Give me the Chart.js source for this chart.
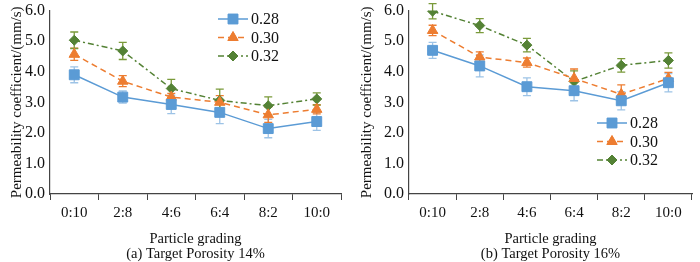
<!DOCTYPE html>
<html>
<head>
<meta charset="utf-8">
<script src="https://cdn.jsdelivr.net/npm/chart.js@4.4.1/dist/chart.umd.min.js"></script>
<style>
  html, body { margin: 0; padding: 0; background: #fff; overflow: hidden; }
  #wrap { position: relative; width: 700px; height: 262px; overflow: hidden; }
  .box { position: absolute; top: -4px; width: 350px; height: 266px; }
</style>
</head>
<body>
<div id="wrap">
  <div class="box" style="left:0"><canvas id="chartA"></canvas></div>
  <div class="box" style="left:350px"><canvas id="chartB"></canvas></div>
</div>
<script>
// categories and series
const grading = ["0:10", "2:8", "4:6", "6:4", "8:2", "10:0"];
const ratios = ["0.28", "0.30", "0.32"];

// (a) target porosity 14%
const a28 = [3.90, 3.17, 2.93, 2.67, 2.14, 2.37];
const a30 = [4.57, 3.69, 3.17, 3.00, 2.59, 2.77];
const a32 = [5.03, 4.68, 3.45, 3.06, 2.89, 3.11];
const a28Err = [0.26, 0.20, 0.30, 0.37, 0.30, 0.29];
const a30Err = [0.20, 0.18, 0.12, 0.22, 0.25, 0.15];
const a32Err = [0.27, 0.28, 0.30, 0.37, 0.29, 0.20];

// (b) target porosity 16%
const b28 = [4.70, 4.19, 3.51, 3.38, 3.05, 3.64];
const b30 = [5.35, 4.48, 4.30, 3.78, 3.26, 3.78];
const b32 = [5.98, 5.51, 4.87, 3.68, 4.21, 4.37];
const b28Err = [0.26, 0.36, 0.29, 0.33, 0.30, 0.30];
const b30Err = [0.17, 0.17, 0.15, 0.31, 0.31, 0.20];
const b32Err = [0.25, 0.23, 0.22, 0.35, 0.22, 0.25];

const yTicks = [0, 1, 2, 3, 4, 5, 6];

const colors = ["#5b9bd5", "#ed7d31", "#548235"];
const errColors = ["#9dc3e6", "#ed7d31", "#7a9a3a"];
const dashes = [[], [6, 4], [6, 3, 2, 3]];
const shapes = ["rect", "triangle", "rectRot"];
const radii = [7, 6, 5];

const serif = "'Liberation Serif', 'Times New Roman', serif";

// error bars drawn under the lines and markers
const errorBars = {
    id: "errorBars",
    beforeDatasetsDraw(chart) {
        const ctx = chart.ctx;
        const y = chart.scales.y;
        chart.data.datasets.forEach((ds, i) => {
            const meta = chart.getDatasetMeta(i);
            ctx.save();
            ctx.strokeStyle = ds.errColor;
            ctx.lineWidth = 1.3;
            meta.data.forEach((pt, j) => {
                const v = ds.data[j], e = ds.errors[j];
                const top = y.getPixelForValue(v + e);
                const bot = y.getPixelForValue(v - e);
                ctx.beginPath();
                ctx.moveTo(pt.x, top); ctx.lineTo(pt.x, bot);
                ctx.moveTo(pt.x - 4, top); ctx.lineTo(pt.x + 4, top);
                ctx.moveTo(pt.x - 4, bot); ctx.lineTo(pt.x + 4, bot);
                ctx.stroke();
            });
            ctx.restore();
        });
    }
};

// legend with line + marker, placed inside the plot
const lineLegend = {
    id: "lineLegend",
    afterDraw(chart, args, opts) {
        const ctx = chart.ctx;
        chart.data.datasets.forEach((ds, i) => {
            const yy = opts.y + i * 18.5;
            ctx.save();
            ctx.strokeStyle = ds.borderColor;
            ctx.lineWidth = 1.5;
            ctx.setLineDash(ds.borderDash);
            ctx.beginPath();
            ctx.moveTo(opts.x, yy);
            ctx.lineTo(opts.x + 30, yy);
            ctx.stroke();
            ctx.restore();
            ctx.save();
            ctx.fillStyle = ds.borderColor;
            ctx.strokeStyle = ds.borderColor;
            ctx.beginPath();
            Chart.helpers.drawPoint(ctx, {
                pointStyle: ds.pointStyle,
                radius: ds.pointRadius,
                borderWidth: 1
            }, opts.x + 15, yy);
            ctx.fill();
            ctx.restore();
            ctx.save();
            ctx.fillStyle = "#111";
            ctx.font = "16px " + serif;
            ctx.textBaseline = "middle";
            ctx.fillText(ds.label, opts.x + 33, yy + 1);
            ctx.restore();
        });
    }
};

function makeChart(id, series, errs, sub, yWidth, padRight, legendPos) {
    const datasets = ratios.map((r, i) => ({
        label: r,
        data: series[i],
        errors: errs[i],
        errColor: errColors[i],
        borderColor: colors[i],
        backgroundColor: colors[i],
        borderWidth: 1.5,
        borderDash: dashes[i],
        pointStyle: shapes[i],
        pointRadius: radii[i],
        pointBorderWidth: 1,
        tension: 0
    }));
    return new Chart(document.getElementById(id), {
        type: "line",
        data: { labels: grading, datasets: datasets },
        plugins: [errorBars, lineLegend],
        options: {
            responsive: false,
            animation: false,
            devicePixelRatio: 1,
            layout: { padding: { top: 0, right: padRight, bottom: 0, left: 0 } },
            plugins: {
                legend: { display: false },
                tooltip: { enabled: false },
                lineLegend: legendPos
            },
            scales: {
                x: {
                    offset: true,
                    grid: {
                        offset: true,
                        drawOnChartArea: false,
                        drawTicks: true,
                        tickLength: 6,
                        color: "#444"
                    },
                    border: { color: "#444", width: 1.2 },
                    ticks: {
                        color: "#111",
                        padding: 4,
                        font: { family: serif, size: 15 }
                    },
                    title: {
                        display: true,
                        text: ["Particle grading", sub],
                        color: "#111",
                        font: { family: serif, size: 14.5, lineHeight: "15px" },
                        padding: { top: 0, bottom: 0 }
                    },
                    afterFit: s => { s.height = 68; }
                },
                y: {
                    min: 0,
                    max: 6,
                    afterBuildTicks: s => { s.ticks = yTicks.map(v => ({ value: v })); },
                    grid: { display: false, drawTicks: false },
                    border: { color: "#444", width: 1.2 },
                    ticks: {
                        color: "#111",
                        padding: 5,
                        font: { family: serif, size: 16 },
                        callback: v => v.toFixed(1)
                    },
                    title: {
                        display: true,
                        text: "Permeability coefficient/(mm/s)",
                        color: "#111",
                        font: { family: serif, size: 15 },
                        padding: { top: 8, bottom: 0 }
                    },
                    afterFit: s => { s.width = yWidth; }
                }
            }
        }
    });
}

function sizeCanvas(id) {
    const c = document.getElementById(id);
    c.width = 350; c.height = 266;
    c.style.width = "350px"; c.style.height = "266px";
}
sizeCanvas("chartA");
sizeCanvas("chartB");

makeChart("chartA", [a28, a30, a32], [a28Err, a30Err, a32Err],
    "(a) Target Porosity 14%", 50, 9, { x: 218, y: 23 });
makeChart("chartB", [b28, b30, b32], [b28Err, b30Err, b32Err],
    "(b) Target Porosity 16%", 59, 0, { x: 247, y: 127 });
</script>
</body>
</html>
